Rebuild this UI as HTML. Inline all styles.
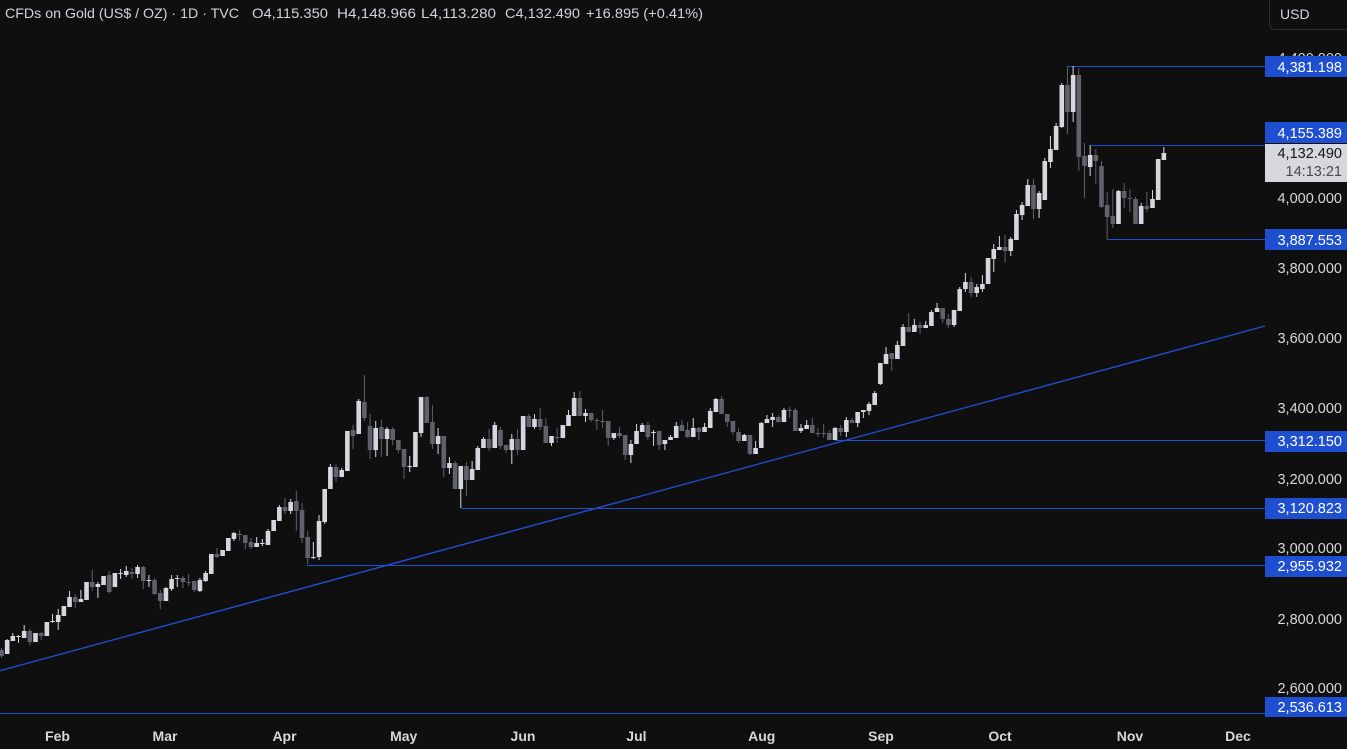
<!DOCTYPE html>
<html><head><meta charset="utf-8">
<style>
html,body{margin:0;padding:0;background:#0f0f0f;width:1347px;height:749px;overflow:hidden}
svg{display:block}
text{font-family:"Liberation Sans",sans-serif}
</style></head><body>
<svg id="c" xmlns="http://www.w3.org/2000/svg" width="1347" height="749" viewBox="0 0 1347 749">
<rect width="1347" height="749" fill="#0f0f0f"/>
<g stroke="#1f4fd1" stroke-width="1" fill="none">
<line x1="0" y1="670.7" x2="1265" y2="326" stroke-width="1.4"/>
<line x1="1068" y1="66.5" x2="1265" y2="66.5"/>
<line x1="1091" y1="145.5" x2="1265" y2="145.5"/>
<line x1="1108" y1="239.5" x2="1265" y2="239.5"/>
<line x1="835" y1="440.5" x2="1265" y2="440.5"/>
<line x1="461" y1="508.5" x2="1265" y2="508.5"/>
<line x1="307" y1="565.5" x2="1265" y2="565.5"/>
<line x1="0" y1="713.5" x2="1265" y2="713.5"/>
</g>
<g id="candles"></g>

<g font-size="14" fill="#d1d4dc">
<text x="5" y="18" textLength="234" lengthAdjust="spacingAndGlyphs">CFDs on Gold (US$ / OZ) · 1D · TVC</text>
<text x="252" y="18" textLength="76" lengthAdjust="spacingAndGlyphs">O4,115.350</text>
<text x="337" y="18" textLength="79" lengthAdjust="spacingAndGlyphs">H4,148.966</text>
<text x="421" y="18" textLength="75" lengthAdjust="spacingAndGlyphs">L4,113.280</text>
<text x="505" y="18" textLength="75" lengthAdjust="spacingAndGlyphs">C4,132.490</text>
<text x="586" y="18" textLength="117" lengthAdjust="spacingAndGlyphs">+16.895 (+0.41%)</text>
</g>

<rect x="1269.5" y="-6" width="85" height="35.5" rx="6" fill="#0f0f0f" stroke="#2e2e2e" stroke-width="1"/>
<text x="1280" y="19" font-size="14" fill="#d1d4dc">USD</text>

<g font-size="14.5" fill="#d8d8d8" text-anchor="end">
<text x="1342" y="63">4,400.000</text>
<text x="1342" y="203">4,000.000</text>
<text x="1342" y="273">3,800.000</text>
<text x="1342" y="343">3,600.000</text>
<text x="1342" y="413">3,400.000</text>
<text x="1342" y="484">3,200.000</text>
<text x="1342" y="553">3,000.000</text>
<text x="1342" y="624">2,800.000</text>
<text x="1342" y="693">2,600.000</text>
</g>

<g fill="#1f4fd1">
<rect x="1265" y="56" width="82" height="21"/>
<rect x="1265" y="122" width="82" height="21"/>
<rect x="1265" y="229" width="82" height="21"/>
<rect x="1265" y="431" width="82" height="21"/>
<rect x="1265" y="498" width="82" height="21"/>
<rect x="1265" y="556" width="82" height="21"/>
<rect x="1265" y="697" width="82" height="20"/>
</g>
<rect x="1265" y="144" width="82" height="38" fill="#d6d8de"/>
<g font-size="14.5" fill="#ffffff" text-anchor="end">
<text x="1342" y="72">4,381.198</text>
<text x="1342" y="138">4,155.389</text>
<text x="1342" y="245">3,887.553</text>
<text x="1342" y="446">3,312.150</text>
<text x="1342" y="513">3,120.823</text>
<text x="1342" y="571">2,955.932</text>
<text x="1342" y="712">2,536.613</text>
</g>
<text x="1342" y="158" font-size="14.5" fill="#131313" text-anchor="end">4,132.490</text>
<text x="1342" y="176" font-size="14.5" fill="#4a4a4a" text-anchor="end">14:13:21</text>

<g font-size="14" font-weight="bold" fill="#d8d8d8" text-anchor="middle">
<text x="57.5" y="741">Feb</text>
<text x="165" y="741">Mar</text>
<text x="284.5" y="741">Apr</text>
<text x="403.7" y="741">May</text>
<text x="523" y="741">Jun</text>
<text x="636.4" y="741">Jul</text>
<text x="761.7" y="741">Aug</text>
<text x="881" y="741">Sep</text>
<text x="1000" y="741">Oct</text>
<text x="1130" y="741">Nov</text>
<text x="1238" y="741">Dec</text>
</g>
</svg>
<script>
var D=[
[0,650,656,648,658],[1,640,654,639,654],[1,636,641,633,641],[1,636,637,635,643],[1,631,638,625,638],
[0,631,642,629,645],[1,633,642,633,642],[0,633,636,632,640],[1,622,636,622,636],[1,621,622,614,623],
[1,615,622,609,630],[1,606,616,606,616],[1,597,607,591,607],[0,597,602,594,608],[1,599,602,590,602],
[1,582,600,582,600],[0,582,587,570,591],[1,584,587,582,598],[1,576,585,576,585],[0,575,592,571,593],
[1,573,587,573,587],[1,573,574,569,579],[1,571,575,566,577],[0,572,574,568,579],[1,567,574,565,578],
[0,567,581,566,589],[1,580,581,575,587],[0,580,594,578,595],[0,593,601,590,609],[1,588,601,587,601],
[1,579,589,575,591],[1,578,579,575,587],[0,578,582,576,588],[0,582,583,574,586],[0,581,590,581,592],
[1,580,591,578,592],[1,573,581,571,582],[1,554,574,554,574],[0,554,557,548,558],[1,550,556,550,556],
[1,538,551,538,551],[1,533,539,532,541],[0,534,535,530,541],[0,535,543,535,549],[0,542,547,538,549],
[1,543,547,537,547],[1,543,544,539,546],[1,531,545,529,545],[1,520,531,520,531],[1,507,521,505,521],
[0,507,511,498,514],[1,502,511,499,514],[0,501,511,491,531],[0,510,538,503,543],[0,537,558,531,564],
[1,557,558,542,559],[1,521,557,515,560],[1,489,522,489,524],[1,467,489,464,489],[0,467,477,464,482],
[1,470,477,468,477],[1,431,471,431,471],[0,430,436,425,449],[1,401,434,399,434],[0,402,418,375,421],
[0,426,450,414,459],[1,428,450,421,457],[0,427,439,420,457],[1,429,439,427,456],[0,429,440,427,445],
[0,440,450,440,453],[0,449,467,449,479],[1,466,467,456,472],[1,432,467,432,467],[1,397,433,397,437],
[0,397,423,396,423],[0,422,444,405,449],[1,436,444,428,454],[0,436,468,436,477],[1,463,468,457,474],
[0,463,489,461,489],[1,466,489,466,508],[0,466,480,462,496],[1,469,480,461,480],[1,448,470,446,470],
[1,439,448,437,448],[0,439,448,429,451],[1,425,448,422,448],[0,430,446,427,449],[0,445,450,445,453],
[1,439,450,434,464],[0,439,450,429,455],[1,416,450,416,450],[0,416,427,414,427],[1,419,427,414,429],
[0,419,427,408,430],[0,426,443,418,443],[1,436,443,436,446],[0,437,438,428,443],[1,425,438,425,438],
[1,415,426,410,426],[1,398,416,392,416],[0,398,416,391,416],[1,413,416,409,422],[0,413,420,413,422],
[0,420,421,418,430],[0,421,422,410,428],[0,421,438,421,446],[1,433,438,433,440],[0,433,436,427,438],
[0,435,455,435,460],[1,444,455,440,463],[1,431,444,424,444],[1,425,432,423,432],[0,425,437,422,440],
[1,432,433,430,446],[0,431,445,431,450],[1,440,444,440,450],[1,437,440,435,440],[1,426,438,422,438],
[0,425,431,420,431],[0,430,437,422,438],[1,428,437,418,437],[0,428,432,427,440],[1,427,432,423,432],
[1,411,428,408,428],[1,399,412,398,412],[0,399,414,396,414],[0,414,422,414,427],[0,421,432,421,435],
[0,432,441,428,443],[1,435,441,434,441],[0,435,454,435,455],[1,448,454,441,454],[1,423,448,422,448],
[1,419,423,415,423],[1,417,420,413,427],[0,417,422,415,423],[1,410,422,408,422],[0,410,411,407,418],
[0,410,431,408,431],[1,428,431,424,433],[1,425,429,420,429],[0,425,433,418,433],[0,433,434,428,437],
[0,433,434,424,438],[0,433,440,430,440],[1,428,440,427,440],[0,428,432,425,436],[1,420,432,417,437],
[0,420,423,418,423],[1,412,423,412,427],[1,410,412,410,418],[1,404,411,402,415],[1,393,405,391,405],
[1,363,384,363,385],[1,354,364,347,364],[0,353,359,353,371],[1,345,359,341,359],[1,327,346,324,346],
[0,327,332,313,332],[1,325,332,319,332],[0,325,328,322,334],[1,325,328,321,328],[1,312,326,310,326],
[1,308,312,303,312],[0,308,319,308,323],[0,319,325,314,328],[1,310,325,310,327],[1,289,311,287,311],
[1,282,289,273,292],[0,282,293,277,297],[1,287,293,284,297],[1,284,289,275,292],[1,258,284,258,284],
[1,249,259,244,272],[1,247,250,236,250],[0,247,251,235,263],[1,239,251,237,256],[1,214,240,210,240],
[1,205,215,202,220],[1,185,206,179,206],[0,185,209,179,219],[1,193,209,191,218],[1,161,200,158,200],
[1,149,162,136,168],[1,126,150,123,150],[1,85,127,83,128],[0,85,112,66,134],[1,75,112,66,122],
[0,75,157,68,171],[0,156,166,143,198],[1,155,167,145,176],[0,155,161,149,184],[0,166,207,161,208],
[0,205,217,192,240],[0,216,224,189,228],[1,191,224,190,224],[0,191,198,183,208],[0,198,199,189,212],
[0,199,224,197,224],[1,206,224,203,224],[0,206,209,192,212],[1,199,208,190,208],[1,159,200,159,200],
[1,153,160,147,160]
];
(function(){
var NS="http://www.w3.org/2000/svg";
var g=document.getElementById('candles');
for(var i=0;i<D.length;i++){
  var r=D[i], xc=1.5+i*5.67, col=r[0]?'#d6d7de':'#5f616b';
  var w=document.createElementNS(NS,'rect');
  w.setAttribute('x',(xc-0.5).toFixed(2));
  w.setAttribute('y',r[3]);
  w.setAttribute('width','1');
  w.setAttribute('height',Math.max(1,r[4]-r[3]));
  w.setAttribute('fill',col);
  g.appendChild(w);
  var b=document.createElementNS(NS,'rect');
  b.setAttribute('x',(xc-2.3).toFixed(2));
  b.setAttribute('y',r[1]);
  b.setAttribute('width','4.6');
  b.setAttribute('height',Math.max(1,r[2]-r[1]));
  b.setAttribute('fill',col);
  g.appendChild(b);
}
})();
</script>
</body></html>
